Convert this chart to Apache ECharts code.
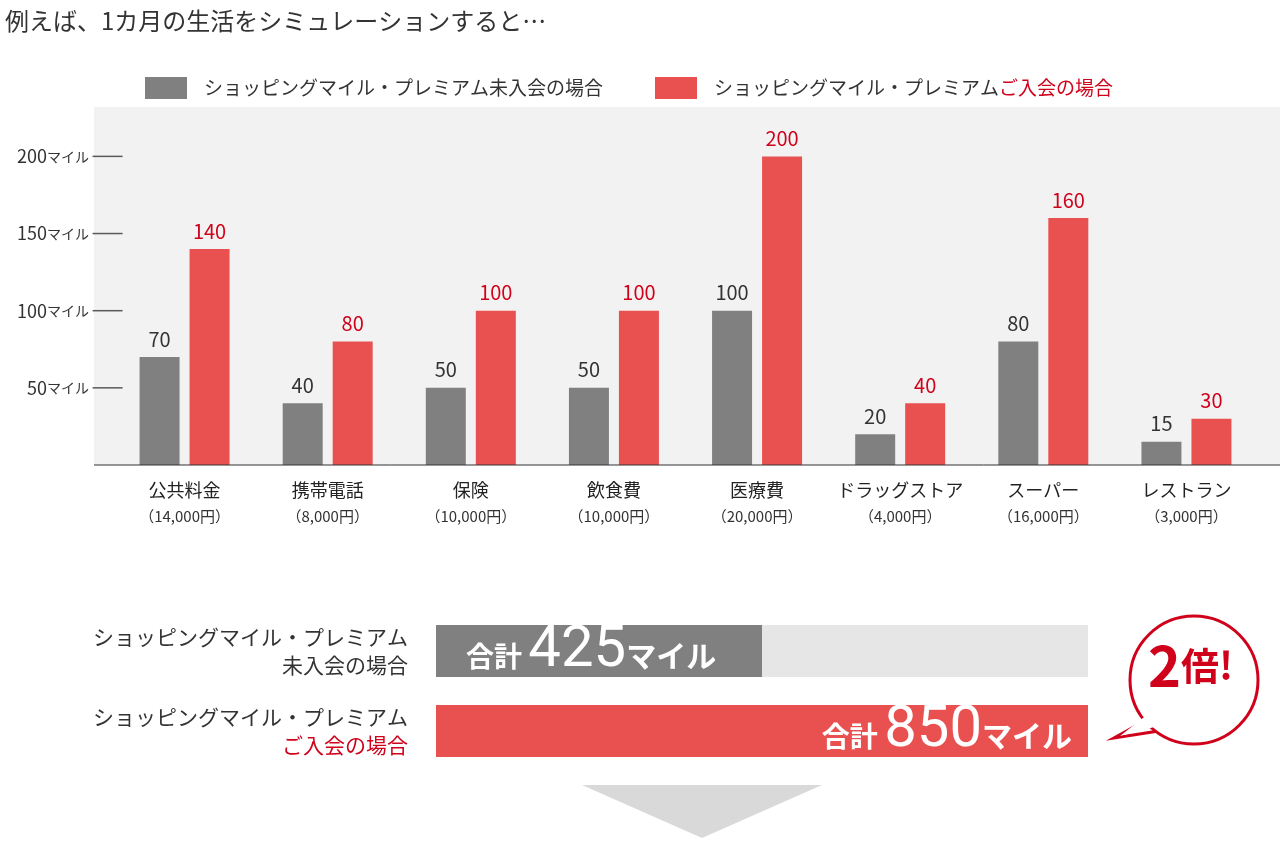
<!DOCTYPE html>
<html lang="ja">
<head>
<meta charset="UTF-8">
<title>シミュレーション</title>
<script src="https://cdn.jsdelivr.net/npm/echarts@6/dist/echarts.min.js"></script>
<style>
  html, body { margin: 0; padding: 0; background: #fff; }
  #main { width: 1280px; height: 841px; }
</style>
</head>
<body>
<div id="main"></div>
<script>
var categories = ['公共料金', '携帯電話', '保険', '飲食費', '医療費', 'ドラッグストア', 'スーパー', 'レストラン'];
var amounts = ['14,000円', '8,000円', '10,000円', '10,000円', '20,000円', '4,000円', '16,000円', '3,000円'];
var nonMember = [70, 40, 50, 50, 100, 20, 80, 15];
var member = [140, 80, 100, 100, 200, 40, 160, 30];
var yTicks = [50, 100, 150, 200];
var totalNames = ['未入会', 'ご入会'];
var totals = [425, 850];

var GRAY = '#808080', RED = '#e95151', TEXTRED = '#d0021b';
var font = '"Noto Sans CJK JP", "Noto Sans", sans-serif';

var chart = echarts.init(document.getElementById('main'));

chart.setOption({
  textStyle: { fontFamily: font },
  animation: false,
  title: {
    text: '例えば、1カ月の生活をシミュレーションすると…',
    left: 0, top: 4,
    textStyle: { fontSize: 24, fontWeight: 'normal', color: '#333', fontFamily: font }
  },
  legend: {
    top: 72, left: 140, itemWidth: 42, itemHeight: 22, itemGap: 52,
    data: ['未入会', 'ご入会'],
    icon: 'rect',
    formatter: function (n) {
      return n === '未入会' ? 'ショッピングマイル・プレミアム未入会の場合'
        : 'ショッピングマイル・プレミアム{r|ご入会の場合}';
    },
    textStyle: { fontSize: 19, color: '#333', padding: [0, 0, 0, 12], rich: { r: { fontSize: 19, color: TEXTRED } } }
  },
  graphic: [
    { type: 'rect', z: -10, shape: { x: 94, y: 107, width: 1186, height: 358 }, style: { fill: '#f2f2f2' } },
    { type: 'line', z: 10, shape: { x1: 94, y1: 465, x2: 1280, y2: 465 }, style: { stroke: '#333', lineWidth: 1 } },
    { type: 'polygon', shape: { points: [[582, 785], [822, 785], [702, 838]] }, style: { fill: '#d9d9d9' } },
    { type: 'polygon', shape: { points: [[1150, 718], [1114, 738], [1165, 730]] }, style: { fill: '#fff', stroke: TEXTRED, lineWidth: 3 } },
    { type: 'circle', shape: { cx: 1194, cy: 680, r: 64 }, style: { fill: '#fff', stroke: TEXTRED, lineWidth: 3 } },
    { type: 'polygon', shape: { points: [[1148, 714], [1120, 736], [1162, 725]] }, style: { fill: '#fff' } },
    { type: 'text', left: 1148, top: 638, style: { text: '{a|2}{b|倍}{c|!}', rich: {
      a: { fontSize: 56, fontWeight: 'bold', fill: TEXTRED, fontFamily: font },
      b: { fontSize: 38, fontWeight: 'bold', fill: TEXTRED, fontFamily: font },
      c: { fontSize: 38, fontWeight: 'bold', fill: TEXTRED, fontFamily: font } } } }
  ],
  grid: [
    { left: 113, right: 22, top: 107, height: 358 },
    { left: 436, right: 192, top: 611, height: 160 }
  ],
  xAxis: [
    {
      type: 'category', gridIndex: 0, data: categories,
      axisLine: { show: false }, axisTick: { show: false },
      axisLabel: {
        margin: 12, lineHeight: 26,
        formatter: function (v, i) { return '{n|' + v + '}\n{s|（' + amounts[i] + '）}'; },
        rich: { n: { fontSize: 18, color: '#222' }, s: { fontSize: 15, color: '#333' } }
      }
    },
    { type: 'value', gridIndex: 1, min: 0, max: 850, show: false }
  ],
  yAxis: [
    {
      type: 'value', gridIndex: 0, min: 0, max: 232, interval: 50,
      splitLine: { show: false }, axisLine: { show: false },
      axisTick: { show: false },
      axisLabel: {
        margin: 24,
        formatter: function (v) { return yTicks.indexOf(v) >= 0 ? '{n|' + v + '}{u|マイル}' : ''; },
        rich: { n: { fontSize: 18, color: '#333' }, u: { fontSize: 14, color: '#333' } }
      }
    },
    {
      type: 'category', gridIndex: 1, inverse: true, data: totalNames,
      axisLine: { show: false }, axisTick: { show: false },
      axisLabel: {
        margin: 28, align: 'right', lineHeight: 28,
        formatter: function (v) {
          return v === '未入会' ? '{k|ショッピングマイル・プレミアム}\n{k|未入会の場合}'
            : '{k|ショッピングマイル・プレミアム}\n{r|ご入会の場合}';
        },
        rich: { k: { fontSize: 21, color: '#333', align: 'right' }, r: { fontSize: 21, color: TEXTRED, align: 'right' } }
      }
    }
  ],
  series: [
    {
      name: '未入会', type: 'bar', xAxisIndex: 0, yAxisIndex: 0, data: nonMember,
      barWidth: 40, barGap: '25%', itemStyle: { color: GRAY },
      label: { show: true, position: 'top', distance: 8, fontSize: 20, color: '#333' }
    },
    {
      name: 'ご入会', type: 'bar', xAxisIndex: 0, yAxisIndex: 0, data: member,
      barWidth: 40, itemStyle: { color: RED },
      label: { show: true, position: 'top', distance: 8, fontSize: 20, color: TEXTRED }
    },
    {
      type: 'scatter', xAxisIndex: 0, yAxisIndex: 0, silent: true,
      data: yTicks.map(function (v) { return [0, v]; }),
      symbol: 'rect', symbolSize: [30, 1.5], symbolOffset: [-77, 0],
      itemStyle: { color: '#333' }, tooltip: { show: false }
    },
    {
      type: 'bar', xAxisIndex: 1, yAxisIndex: 1, barWidth: 52,
      showBackground: true, backgroundStyle: { color: '#e6e6e6' },
      data: [
        { value: totals[0], itemStyle: { color: GRAY },
          label: { position: 'insideLeft', distance: 30 } },
        { value: totals[1], itemStyle: { color: RED },
          label: { position: 'insideRight', distance: 16 } }
      ],
      label: {
        show: true,
        formatter: function (p) { return '{a|合計 }{b|' + p.value + '}{c|マイル}'; },
        rich: {
          a: { fontSize: 28, color: '#fff', fontWeight: 'bold', verticalAlign: 'middle', padding: [10, 0, 0, 0] },
          b: { fontSize: 58, color: '#fff', fontFamily: 'Roboto, sans-serif', verticalAlign: 'middle' },
          c: { fontSize: 30, color: '#fff', fontWeight: 'bold', verticalAlign: 'middle', padding: [10, 0, 0, 0] }
        }
      }
    }
  ]
});
</script>
</body>
</html>
